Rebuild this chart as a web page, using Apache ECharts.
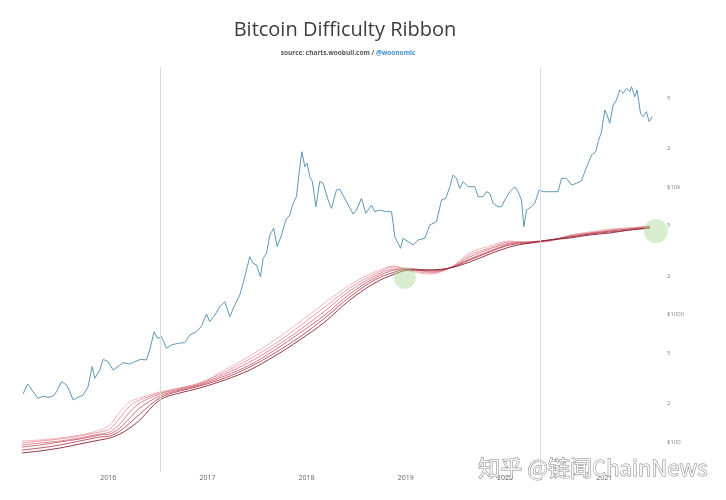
<!DOCTYPE html>
<html><head><meta charset="utf-8">
<script src="https://cdn.jsdelivr.net/npm/echarts@6/dist/echarts.min.js"></script>
<style>html,body{margin:0;padding:0;background:#fff}#c{width:726px;height:500px}</style>
</head><body><div id="c"></div>
<script>
// ---- data (decimal years, USD) ----
const priceYears = [2015.142,2015.187,2015.210,2015.243,2015.293,2015.344,2015.394,2015.445,2015.479,2015.529,2015.580,2015.613,2015.646,2015.697,2015.747,2015.797,2015.838,2015.865,2015.915,2015.949,2015.999,2016.049,2016.100,2016.150,2016.218,2016.268,2016.329,2016.386,2016.419,2016.463,2016.497,2016.537,2016.588,2016.638,2016.705,2016.772,2016.823,2016.890,2016.941,2016.991,2017.024,2017.075,2017.125,2017.175,2017.226,2017.276,2017.327,2017.360,2017.394,2017.427,2017.461,2017.495,2017.535,2017.562,2017.596,2017.629,2017.669,2017.703,2017.747,2017.790,2017.831,2017.864,2017.898,2017.924,2017.952,2017.982,2018.005,2018.032,2018.059,2018.093,2018.133,2018.166,2018.217,2018.251,2018.301,2018.335,2018.402,2018.469,2018.503,2018.553,2018.597,2018.654,2018.688,2018.738,2018.805,2018.856,2018.872,2018.889,2018.922,2018.947,2018.973,2019.023,2019.074,2019.124,2019.192,2019.242,2019.310,2019.360,2019.403,2019.444,2019.477,2019.511,2019.544,2019.578,2019.628,2019.696,2019.729,2019.779,2019.814,2019.847,2019.880,2019.930,2019.965,2019.998,2020.048,2020.099,2020.132,2020.166,2020.190,2020.217,2020.267,2020.300,2020.344,2020.384,2020.452,2020.535,2020.570,2020.620,2020.670,2020.721,2020.771,2020.804,2020.838,2020.872,2020.915,2020.939,2020.973,2021.006,2021.029,2021.056,2021.090,2021.124,2021.157,2021.191,2021.225,2021.258,2021.275,2021.308,2021.332,2021.366,2021.392,2021.426,2021.453,2021.484];
const priceValues = [238,285,271,248,220,229,224,229,248,297,280,248,214,224,234,271,390,316,367,445,427,367,390,419,409,427,445,440,527,733,651,670,543,577,595,601,691,733,812,1009,878,991,1151,1260,961,1187,1422,1756,2234,2840,2521,2444,1979,2759,3020,4203,4744,3403,4203,5510,6031,7452,8393,12810,18920,14430,15350,12040,11010,7006,11010,10690,7907,6806,9473,9594,7668,6141,6601,8153,6220,7224,6402,6601,6402,6402,5192,4076,3617,3306,3960,3724,3509,3840,3960,5035,5344,7907,8153,10050,12420,11700,9768,11010,10050,10050,8393,8393,9187,8925,7452,7006,7006,7907,9187,10050,9187,7907,4883,6601,7006,7452,9473,9187,9187,9187,11700,11700,10370,10690,11140,13180,15350,17820,18920,22660,27150,40170,36710,31600,43970,48130,57660,54310,59450,55910,61200,51080,57660,37840,35600,38960,32530,35600];

const ribbonYears = [2015.129,2015.310,2015.512,2015.714,2015.915,2016.016,2016.117,2016.218,2016.319,2016.520,2016.722,2016.923,2017.175,2017.427,2017.679,2017.931,2018.183,2018.435,2018.688,2018.889,2019.040,2019.242,2019.444,2019.645,2019.847,2020.048,2020.250,2020.452,2020.653,2020.855,2021.056,2021.258,2021.460];
const ribbon1 = [101.8,103.7,107.5,113.4,124.2,135.9,172.0,205.9,221.4,246.7,265.1,290.2,367.1,472.6,631,873.5,1231,1704,2154,2401,2193,2078,2316,3037,3446,3772,3638,3772,4203,4437,4684,4770,4945];
const ribbon2 = [98.2,101.8,105.6,111.4,119.8,126.5,154.3,191.6,213.5,242.3,265.1,290.2,354.0,447.7,586.9,812.5,1145,1614,2078,2358,2234,2116,2316,2929,3324,3704,3704,3772,4128,4358,4600,4770,4945];
const ribbon3 = [94.7,98.2,101.8,107.5,115.5,119.8,138.4,172.0,202.2,237.9,260.4,285.0,341.5,424.2,556.0,755.7,1065,1529,2004,2274,2274,2154,2316,2825,3264,3638,3704,3840,4128,4358,4518,4684,4857];
const ribbon4 = [91.4,94.7,100,105.6,113.4,115.5,128.8,154.3,184.8,229.5,255.7,279.9,329.3,401.8,526.7,716.0,991.0,1448,1933,2234,2274,2193,2316,2725,3148,3573,3704,3840,4054,4280,4518,4684,4857];
const ribbon5 = [86.5,89.7,94.7,101.8,109.4,111.4,121.9,140.9,165.8,221.4,251.2,274.9,317.7,387.5,498.9,666.1,938.7,1372,1865,2154,2274,2234,2316,2676,3093,3509,3638,3840,4054,4280,4437,4600,4770];
const ribbon6 = [82.0,85.0,89.7,96.5,103.7,107.5,115.5,128.8,148.8,213.5,242.3,265.1,306.4,367.1,472.6,631.0,873.5,1299,1767,2078,2234,2234,2316,2581,2983,3384,3638,3840,3981,4203,4358,4600,4770];

const halvingYears = [2016.52, 2020.36];
const markerYears = [2018.99, 2021.52];
const markerValues = [1933, 4518];
const xTickYears = [2016, 2017, 2018, 2019, 2020, 2021];
const yTickValues = [100, 200, 500, 1000, 2000, 5000, 10000, 20000, 50000];
const yTickLabels = ['$100', '2', '5', '$1000', '2', '5', '$10k', '2', '5'];

// ---- build ----
const lg = v => Math.log10(v);
const pairs = (xs, ys) => xs.map((x, i) => [x, lg(ys[i])]);
const ribbons = [ribbon1, ribbon2, ribbon3, ribbon4, ribbon5, ribbon6];
const ribbonColors = ['rgba(240,170,180,0.85)','rgba(230,142,154,0.85)','rgba(216,115,129,0.85)','rgba(200,88,102,0.85)','rgba(178,62,78,0.85)','rgba(140,36,52,0.9)'];
const markerSizes = [22, 24];
const yTickLogs = yTickValues.map(lg);
const labelFor = v => {
  let best = 0, bd = 1e9;
  yTickLogs.forEach((t, i) => { const d = Math.abs(t - v); if (d < bd) { bd = d; best = i; } });
  return yTickLabels[best];
};

const chart = echarts.init(document.getElementById('c'), null, {renderer: 'canvas'});
const series = [];
ribbons.forEach((r, i) => series.push({
  type: 'line', data: pairs(ribbonYears, r), showSymbol: false, smooth: 0.35,
  lineStyle: {width: 1, color: ribbonColors[i]}, z: 2, silent: true
}));
series.push({
  type: 'line', data: pairs(priceYears, priceValues), showSymbol: false,
  lineStyle: {width: 1, color: '#5f97b8'}, z: 3, silent: true,
  markLine: {
    symbol: 'none', silent: true, label: {show: false},
    lineStyle: {color: '#dcdcdc', width: 1, type: 'solid'},
    data: halvingYears.map(x => ({xAxis: x}))
  }
});
series.push({
  type: 'scatter', z: 4, silent: true,
  data: markerYears.map((x, i) => ({value: [x, lg(markerValues[i])], symbolSize: markerSizes[i]})),
  itemStyle: {color: 'rgba(168,214,148,0.55)'}
});

chart.setOption({
  animation: false,
  backgroundColor: '#fff',
  title: [{
    text: 'Bitcoin Difficulty Ribbon', left: 340, top: 15, textAlign: 'center',
    textStyle: {fontFamily: 'Open Sans', fontWeight: 'normal', fontSize: 20, color: '#3d3d3d'}
  }, {
    text: '{a|source: charts.woobull.com / }{b|@woonomic}', left: 343, top: 45, textAlign: 'center',
    textStyle: {rich: {
      a: {fontFamily: 'Open Sans', fontSize: 6.5, color: '#555'},
      b: {fontFamily: 'Open Sans', fontSize: 6.5, color: '#3b8fd0'}
    }}
  }],
  grid: {left: 9, right: 66, top: 67, bottom: 28, containLabel: false},
  xAxis: {
    type: 'value', min: 2015, max: 2021.5625,
    axisLine: {show: false}, axisTick: {show: false}, splitLine: {show: false},
    axisLabel: {customValues: xTickYears, formatter: v => String(Math.round(v)),
      fontFamily: 'Open Sans', fontSize: 7, color: '#666', margin: 2}
  },
  yAxis: {
    type: 'value', position: 'right', min: 1.7647, max: 4.9412,
    axisLine: {show: false}, axisTick: {show: false}, splitLine: {show: false},
    axisLabel: {customValues: yTickLogs, formatter: v => labelFor(v),
      fontFamily: 'Open Sans', fontSize: 6, color: '#888', margin: 7, align: 'left'}
  },
  graphic: [{
    type: 'text', right: 18, top: 456, z: 100, silent: true,
    style: {text: '知乎 @链闻ChainNews', font: '22px "Noto Sans CJK SC"',
      fill: 'rgba(255,255,255,0.85)', stroke: 'rgba(95,95,95,0.75)', lineWidth: 1}
  }],
  series: series
});
</script>
</body></html>
